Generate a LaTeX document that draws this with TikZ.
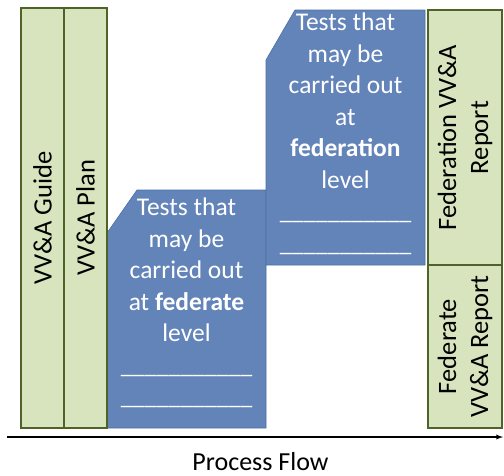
\documentclass[tikz,border=0pt]{standalone}
\usepackage{fontspec}
\setmainfont{Carlito}
\usepackage{color}
\usetikzlibrary{calc}
\usetikzlibrary{arrows}
\usetikzlibrary{positioning}

\definecolor{docgreen}{HTML}{D7E4BD}
\definecolor{docedge}{HTML}{4F6228}
\definecolor{testblue}{HTML}{6384B9}
\definecolor{testedge}{HTML}{4A6EA5}

\newcommand{\blankline}{{\fontsize{24}{31.5}\selectfont\_\_\_\_\_\_\_\_\_\_\_}}

\begin{document}
\begin{tikzpicture}[x=1pt,y=-1pt,
  docbox/.style={draw=docedge, fill=docgreen, line width=1.3pt, rotate=90,
    inner sep=0pt, align=center, font=\fontsize{26.5}{32}\selectfont},
  testarea/.style={draw=testedge, fill=testblue, line width=0.6pt},
  testtext/.style={text=white, align=center, inner sep=0pt, anchor=north,
    font=\fontsize{25.5}{31.5}\selectfont}]
  \useasboundingbox (0,0) rectangle (504,475);

  %% federate level tests
  \draw[testarea] (137,190) -- (266,190) -- (266,428) -- (107,428) -- (107,233) -- cycle;
  \node[testtext] (federate tests) at (186.5,198)
    {Tests that\\may be\\carried out\\at \textbf{federate}\\level\\
     \blankline\\\blankline};

  %% federation level tests
  \draw[testarea] (295,10) -- (425,10) -- (425,265) -- (266,265) -- (266,60) -- cycle;
  \node[testtext] (federation tests) at (345.5,13)
    {Tests that\\may be\\carried out\\at\\\textbf{federation}\\level\\
     \blankline\\\blankline};

  %% documents
  \node[docbox, minimum width=420pt, minimum height=43pt] (guide) at (42.5,218) {VV\&A Guide};
  \node[docbox, minimum width=420pt, minimum height=43pt] (plan) at (85.5,218) {VV\&A Plan};
  \node[docbox, minimum width=255pt, minimum height=74pt] (federation report) at (465,137.5)
    {Federation VV\&A\\Report};
  \node[docbox, minimum width=163pt, minimum height=74pt] (federate report) at (465,346.5)
    {Federate\\VV\&A Report};

  %% process flow axis
  \coordinate (flow start) at (7,437);
  \coordinate (flow end) at (503,437);
  \draw[-latex, line width=1.3pt] (flow start) -- (flow end);
  \node[anchor=base, inner sep=0pt, font=\fontsize{26}{30}\selectfont] (flow label) at (260.5,470) {Process Flow};
\end{tikzpicture}
\end{document}
